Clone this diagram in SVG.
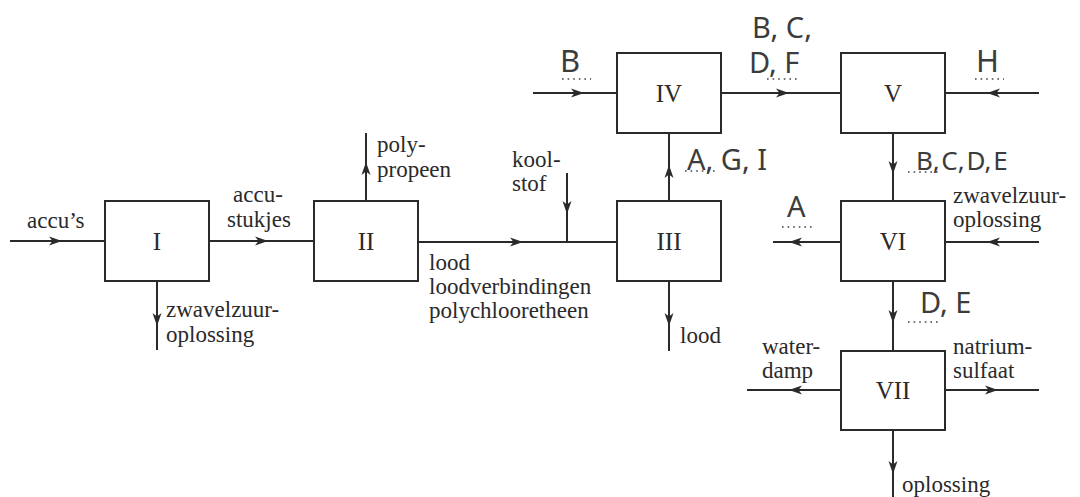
<svg xmlns="http://www.w3.org/2000/svg" xmlns:xlink="http://www.w3.org/1999/xlink" width="1080" height="497" viewBox="0 0 1080 497">
  <style>
    .box { fill: #fff; stroke: #2a2a2a; stroke-width: 2; }
    .ln { fill: none; stroke: #2a2a2a; stroke-width: 2; }
    .ah { fill: #2a2a2a; }
    .t { font-family: "Liberation Serif", "Times New Roman", serif; font-size: 23px; fill: #2a2a2a; }
    .num { font-family: "Liberation Serif", "Times New Roman", serif; font-size: 25px; fill: #2a2a2a; text-anchor: middle; }
    .hw { font-family: "Noto Sans", "DejaVu Sans", sans-serif; font-size: 29px; fill: #3c3c3c; }
    .tight { font-size: 26px; word-spacing: -5px; }
    .dots { fill: none; stroke: #444; stroke-width: 1.6; stroke-dasharray: 1.6 4; }
  </style>
  <defs>
    <!-- arrowhead pointing right, tip at origin -->
    <path id="ah" d="M0,0 L-13,-4.5 L-9.5,0 L-13,4.5 Z"/>
  </defs>
  <rect width="1080" height="497" fill="#fff"/>

  <!-- connectors -->
  <g id="connectors">
    <path class="ln" d="M10,241 H105"/>
    <use xlink:href="#ah" class="ah" transform="translate(62,241)"/>
    <path class="ln" d="M209,241 H314"/>
    <use xlink:href="#ah" class="ah" transform="translate(268,241)"/>
    <path class="ln" d="M157,281 V350"/>
    <use xlink:href="#ah" class="ah" transform="translate(157,326) rotate(90)"/>
    <path class="ln" d="M366,201 V133"/>
    <use xlink:href="#ah" class="ah" transform="translate(366,162) rotate(-90)"/>
    <path class="ln" d="M418,242 H617"/>
    <use xlink:href="#ah" class="ah" transform="translate(523,242)"/>
    <path class="ln" d="M567,173 V242"/>
    <use xlink:href="#ah" class="ah" transform="translate(567,214) rotate(90)"/>
    <path class="ln" d="M669,281 V351"/>
    <use xlink:href="#ah" class="ah" transform="translate(669,326) rotate(90)"/>
    <path class="ln" d="M669,201 V133"/>
    <use xlink:href="#ah" class="ah" transform="translate(669,165) rotate(-90)"/>
    <path class="ln" d="M533,93 H617"/>
    <use xlink:href="#ah" class="ah" transform="translate(584,93)"/>
    <path class="ln" d="M721,93 H841"/>
    <use xlink:href="#ah" class="ah" transform="translate(789,93)"/>
    <path class="ln" d="M1039,93 H945"/>
    <use xlink:href="#ah" class="ah" transform="translate(987,93) rotate(180)"/>
    <path class="ln" d="M893,133 V201"/>
    <use xlink:href="#ah" class="ah" transform="translate(893,174) rotate(90)"/>
    <path class="ln" d="M841,242 H773"/>
    <use xlink:href="#ah" class="ah" transform="translate(789,242) rotate(180)"/>
    <path class="ln" d="M1039,242 H945"/>
    <use xlink:href="#ah" class="ah" transform="translate(987,242) rotate(180)"/>
    <path class="ln" d="M893,281 V351"/>
    <use xlink:href="#ah" class="ah" transform="translate(893,323) rotate(90)"/>
    <path class="ln" d="M841,390 H747"/>
    <use xlink:href="#ah" class="ah" transform="translate(789,390) rotate(180)"/>
    <path class="ln" d="M945,390 H1039"/>
    <use xlink:href="#ah" class="ah" transform="translate(998,390)"/>
    <path class="ln" d="M893,430 V497"/>
    <use xlink:href="#ah" class="ah" transform="translate(893,474) rotate(90)"/>
  </g>

  <!-- process blocks -->
  <g id="node-I">
    <rect class="box" x="105" y="201" width="104" height="80"/>
    <text class="num" x="157" y="250">I</text>
  </g>
  <g id="node-II">
    <rect class="box" x="314" y="201" width="104" height="80"/>
    <text class="num" x="366" y="250">II</text>
  </g>
  <g id="node-III">
    <rect class="box" x="617" y="201" width="104" height="80"/>
    <text class="num" x="669" y="250">III</text>
  </g>
  <g id="node-IV">
    <rect class="box" x="617" y="53" width="104" height="80"/>
    <text class="num" x="669" y="102">IV</text>
  </g>
  <g id="node-V">
    <rect class="box" x="841" y="53" width="104" height="80"/>
    <text class="num" x="893" y="102">V</text>
  </g>
  <g id="node-VI">
    <rect class="box" x="841" y="201" width="104" height="80"/>
    <text class="num" x="893" y="250">VI</text>
  </g>
  <g id="node-VII">
    <rect class="box" x="841" y="351" width="104" height="79"/>
    <text class="num" x="893" y="399">VII</text>
  </g>

  <!-- stream labels -->
  <g id="labels">
    <text class="t" x="27" y="228">accu’s</text>
    <text class="t" x="233" y="202">accu-</text>
    <text class="t" x="227" y="227">stukjes</text>
    <text class="t" x="166" y="317">zwavelzuur-</text>
    <text class="t" x="166" y="342">oplossing</text>
    <text class="t" x="377" y="152">poly-</text>
    <text class="t" x="377" y="177">propeen</text>
    <text class="t" x="512" y="167">kool-</text>
    <text class="t" x="512" y="191">stof</text>
    <text class="t" x="429" y="270">lood</text>
    <text class="t" x="429" y="294">loodverbindingen</text>
    <text class="t" x="429" y="318">polychlooretheen</text>
    <text class="t" x="680" y="343">lood</text>
    <text class="t" x="953" y="203">zwavelzuur-</text>
    <text class="t" x="953" y="227">oplossing</text>
    <text class="t" x="762" y="354">water-</text>
    <text class="t" x="762" y="378">damp</text>
    <text class="t" x="953" y="354">natrium-</text>
    <text class="t" x="953" y="378">sulfaat</text>
    <text class="t" x="902" y="492">oplossing</text>
  </g>

  <!-- answer blanks with filled-in letters -->
  <g id="answers">
    <path class="dots" d="M562,79 H591"/>
    <path class="dots" d="M767,79 H797"/>
    <path class="dots" d="M975,79 H1004"/>
    <path class="dots" d="M685,171 H715"/>
    <path class="dots" d="M908,172 H938"/>
    <path class="dots" d="M782,227 H812"/>
    <path class="dots" d="M908,322 H938"/>
    <text class="hw" x="560" y="72" style="font-size:31px">B</text>
    <text class="hw" x="752" y="38">B, C,</text>
    <text class="hw" x="749" y="73">D, F</text>
    <text class="hw" x="976" y="72" style="font-size:31px">H</text>
    <text class="hw" x="687" y="170">A, G, I</text>
    <text class="hw tight" x="916" y="170">B, C, D, E</text>
    <text class="hw" x="787" y="217">A</text>
    <text class="hw" x="920" y="313">D, E</text>
  </g>
</svg>
